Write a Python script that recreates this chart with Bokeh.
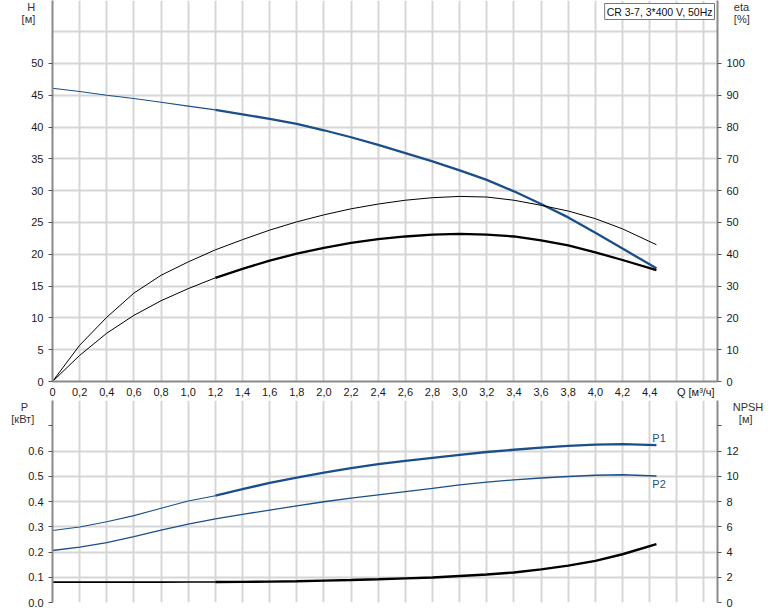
from bokeh.plotting import figure
from bokeh.models import Range1d, LinearAxis, FixedTicker, Label
from bokeh.layouts import column
from bokeh.embed import file_html
from bokeh.resources import INLINE

# ---------------- data ----------------
Q = [0.0, 0.2, 0.4, 0.6, 0.8, 1.0, 1.2, 1.4, 1.6, 1.8, 2.0, 2.2, 2.4, 2.6,
     2.8, 3.0, 3.2, 3.4, 3.6, 3.8, 4.0, 4.2, 4.45]
H = [46.1, 45.6, 45.0, 44.5, 43.9, 43.3, 42.7, 42.0, 41.3, 40.5, 39.5, 38.4,
     37.2, 35.9, 34.6, 33.2, 31.7, 29.9, 27.9, 25.8, 23.4, 20.9, 17.8]
ETA_PUMP = [0.0, 11.4, 20.2, 27.8, 33.4, 37.6, 41.4, 44.6, 47.6, 50.2, 52.4,
            54.3, 55.8, 57.0, 57.8, 58.2, 58.0, 57.0, 55.4, 53.6, 51.2, 48.0, 43.0]
ETA_TOTAL = [0.0, 8.2, 15.2, 20.8, 25.4, 29.2, 32.6, 35.4, 38.0, 40.2, 42.0,
             43.6, 44.8, 45.6, 46.2, 46.4, 46.2, 45.6, 44.4, 42.8, 40.6, 38.2, 35.0]
P1 = [0.285, 0.299, 0.320, 0.344, 0.373, 0.402, 0.423, 0.449, 0.474, 0.495,
      0.514, 0.532, 0.548, 0.561, 0.573, 0.585, 0.596, 0.605, 0.613, 0.620,
      0.625, 0.627, 0.623]
P2 = [0.206, 0.219, 0.237, 0.261, 0.287, 0.310, 0.331, 0.349, 0.366, 0.383,
      0.399, 0.413, 0.426, 0.439, 0.452, 0.466, 0.477, 0.486, 0.493, 0.499,
      0.504, 0.506, 0.501]
NPSH = [1.61, 1.61, 1.61, 1.61, 1.61, 1.62, 1.62, 1.63, 1.65, 1.68, 1.73,
        1.78, 1.84, 1.91, 1.98, 2.10, 2.22, 2.38, 2.62, 2.92, 3.30, 3.82, 4.62]

X_TICKS = [0.0, 0.2, 0.4, 0.6, 0.8, 1.0, 1.2, 1.4, 1.6, 1.8, 2.0, 2.2, 2.4,
           2.6, 2.8, 3.0, 3.2, 3.4, 3.6, 3.8, 4.0, 4.2, 4.4]
X_LABELS = ["0", "0,2", "0,4", "0,6", "0,8", "1,0", "1,2", "1,4", "1,6", "1,8",
            "2,0", "2,2", "2,4", "2,6", "2,8", "3,0", "3,2", "3,4", "3,6", "3,8",
            "4,0", "4,2", "4,4"]
Q_TITLE_POS = 4.74
Q_TITLE = "Q [м³/ч]"
X_GRID = X_TICKS[1:] + [4.6, 4.8]
H_TICKS = [0, 5, 10, 15, 20, 25, 30, 35, 40, 45, 50]
H_GRID = [5, 10, 15, 20, 25, 30, 35, 40, 45, 50, 55]
ETA_TICKS = [0, 10, 20, 30, 40, 50, 60, 70, 80, 90, 100]
P_TICKS = [0.0, 0.1, 0.2, 0.3, 0.4, 0.5, 0.6, 0.7]
P_LABELS = ["0.0", "0.1", "0.2", "0.3", "0.4", "0.5", "0.6", ""]
P_GRID = [0.1, 0.2, 0.3, 0.4, 0.5, 0.6, 0.8]
NPSH_TICKS = [0, 2, 4, 6, 8, 10, 12, 14]
NPSH_LABELS = ["0", "2", "4", "6", "8", "10", "12", ""]
TITLE = "CR 3-7, 3*400 V, 50Hz"

# ---------------- styles ----------------
BLUE = "#1b4f8a"
GRID = "#d6d6d6"
AXIS = "#8a8a8a"
TXT = "#1a1a1a"
FONT = "Liberation Sans"
SPLIT = Q.index(1.2)
W = 770
NB = "\u00a0"


def style_axis(ax, tick_out=4, standoff=5):
    ax.axis_line_color = AXIS
    ax.axis_line_width = 2
    ax.major_tick_line_color = "#555555"
    ax.major_tick_out = tick_out
    ax.major_tick_in = 0
    ax.minor_tick_line_color = None
    ax.major_label_text_font = FONT
    ax.major_label_text_font_size = "11px"
    ax.major_label_text_color = TXT
    ax.major_label_standoff = standoff


def title_axis(ax, text, standoff):
    # two blank leading lines push the two visible lines just below the frame top
    ax.axis_label = "\n\n" + text
    ax.axis_label_orientation = "horizontal"
    ax.axis_label_align = "end"
    ax.axis_label_standoff = standoff
    ax.axis_label_text_line_height = 1.0
    ax.axis_label_text_font = FONT
    ax.axis_label_text_font_size = "11px"
    ax.axis_label_text_font_style = "normal"
    ax.axis_label_text_color = "#333333"


def base_fig(height, yr, bottom):
    f = figure(width=W, height=height, x_range=Range1d(0, 4.9), y_range=yr,
               output_backend="svg", toolbar_location=None,
               x_axis_location=None, y_axis_location=None,
               min_border_left=52, min_border_right=W - 717, min_border_top=0,
               min_border_bottom=bottom)
    f.outline_line_color = None
    f.background_fill_color = "white"
    f.xgrid.ticker = FixedTicker(ticks=X_GRID)
    for g in (f.xgrid, f.ygrid):
        g.grid_line_color = GRID
        g.grid_line_width = 2
    return f


# ---------------- top figure: H and eta ----------------
top = base_fig(400, Range1d(0, 59.9), 19)
top.extra_y_ranges = {"eta": Range1d(0, 119.8)}
top.ygrid.ticker = FixedTicker(ticks=H_GRID)

x_overrides = dict(zip(X_TICKS, X_LABELS))
x_overrides[Q_TITLE_POS] = Q_TITLE
xa = LinearAxis(ticker=FixedTicker(ticks=X_TICKS + [Q_TITLE_POS]),
                major_label_overrides=x_overrides)
style_axis(xa, tick_out=0, standoff=4)
top.add_layout(xa, "below")
ya = LinearAxis(ticker=FixedTicker(ticks=H_TICKS))
style_axis(ya)
title_axis(ya, "H\n[м]", -7)
top.add_layout(ya, "left")
ea = LinearAxis(y_range_name="eta", ticker=FixedTicker(ticks=ETA_TICKS))
style_axis(ea)
title_axis(ea, "eta\n[%]", -14)
top.add_layout(ea, "right")

top.line(Q[:SPLIT + 1], H[:SPLIT + 1], line_color=BLUE, line_width=1.1)
top.line(Q[SPLIT:], H[SPLIT:], line_color=BLUE, line_width=2.3)
top.line(Q, ETA_PUMP, y_range_name="eta", line_color="black", line_width=1.0)
top.line(Q[:SPLIT + 1], ETA_TOTAL[:SPLIT + 1], y_range_name="eta", line_color="black", line_width=1.0)
top.line(Q[SPLIT:], ETA_TOTAL[SPLIT:], y_range_name="eta", line_color="black", line_width=2.3)

top.add_layout(Label(x=662, y=378, x_units="screen", y_units="screen", text=TITLE,
                     text_font=FONT, text_font_size="10.5px", text_color="#111111",
                     text_align="right", text_baseline="top",
                     background_fill_color="white", border_line_color="#777777",
                     border_line_width=1, padding=2))

# ---------------- bottom figure: P1, P2, NPSH ----------------
bot = base_fig(211, Range1d(0, 0.8), 9)
bot.extra_y_ranges = {"npsh": Range1d(0, 16)}
bot.ygrid.ticker = FixedTicker(ticks=P_GRID)

pa = LinearAxis(ticker=FixedTicker(ticks=P_TICKS),
                major_label_overrides=dict(zip(P_TICKS, P_LABELS)))
style_axis(pa)
title_axis(pa, "P" + NB * 2 + "\n[кВт]", -9)
bot.add_layout(pa, "left")
na = LinearAxis(y_range_name="npsh", ticker=FixedTicker(ticks=NPSH_TICKS),
                major_label_overrides=dict(zip(NPSH_TICKS, NPSH_LABELS)))
style_axis(na)
title_axis(na, "NPSH\n" + NB * 2 + "[м]", -9)
bot.add_layout(na, "right")

bot.line(Q[:SPLIT + 1], P1[:SPLIT + 1], line_color=BLUE, line_width=1.1)
bot.line(Q[SPLIT:], P1[SPLIT:], line_color=BLUE, line_width=2.3)
bot.line(Q, P2, line_color=BLUE, line_width=1.3)
bot.line(Q[:SPLIT + 1], NPSH[:SPLIT + 1], y_range_name="npsh", line_color="black", line_width=1.6)
bot.line(Q[SPLIT:], NPSH[SPLIT:], y_range_name="npsh", line_color="black", line_width=2.4)

bot.add_layout(Label(x=4.42, y=0.65, text="P1", text_font=FONT, text_font_size="11px",
                     text_color=BLUE, text_baseline="middle"))
bot.add_layout(Label(x=4.42, y=0.47, text="P2", text_font=FONT, text_font_size="11px",
                     text_color=BLUE, text_baseline="middle"))

layout = column(top, bot)
open("out.html", "w").write(file_html(layout, INLINE))
